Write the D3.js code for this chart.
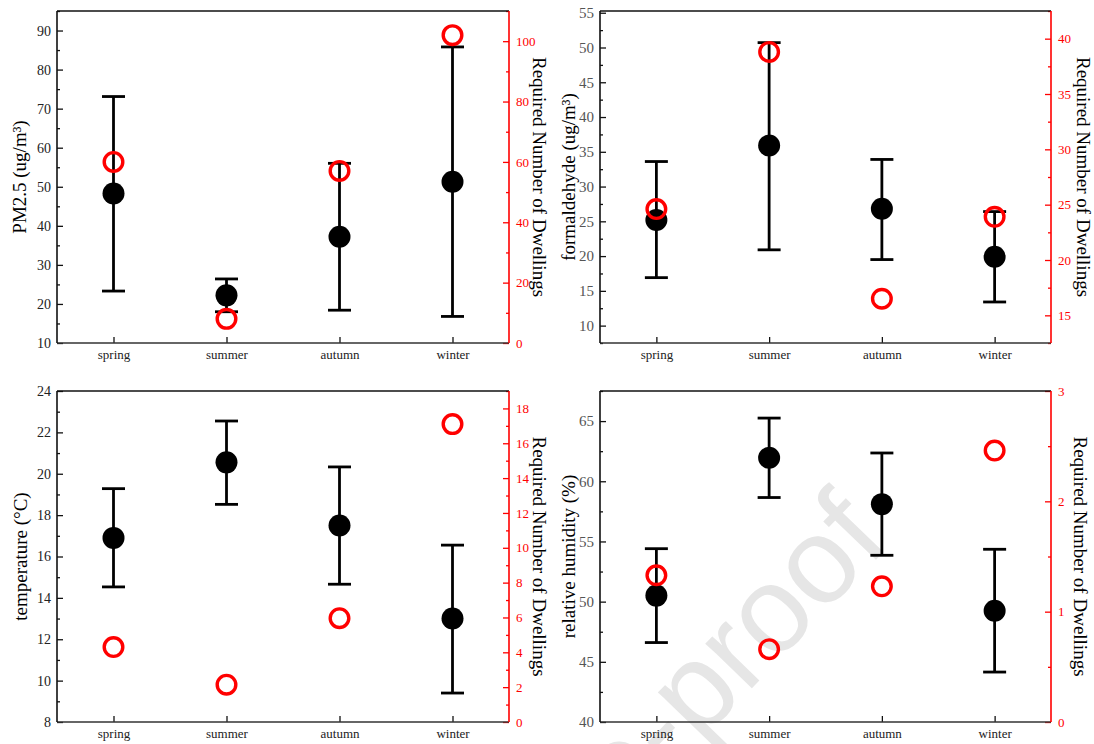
<!DOCTYPE html>
<html>
<head>
<meta charset="utf-8">
<script src="https://cdn.jsdelivr.net/npm/d3@7"></script>
<style>
  html, body { margin: 0; padding: 0; background: #ffffff; }
  svg { display: block; }
  text { font-family: "Liberation Serif", "Times New Roman", serif; }
</style>
</head>
<body>
<svg id="chart" width="1094" height="744"></svg>
<script>
// ---------------- data ----------------
const seasons = ["spring", "summer", "autumn", "winter"];

const pm25Mean  = [48.3, 22.2, 37.2, 51.3];
const pm25Upper = [73.1, 26.4, 56.0, 85.8];
const pm25Lower = [23.3, 18.0, 18.4, 16.8];
const pm25Dwellings = [60, 8, 57, 102];

const hchoMean  = [25.2, 35.9, 26.8, 19.9];
const hchoUpper = [33.6, 50.7, 33.9, 26.4];
const hchoLower = [16.9, 20.9, 19.5, 13.4];
const hchoDwellings = [24.6, 38.8, 16.5, 23.9];

const tempMean  = [16.9, 20.55, 17.5, 13.0];
const tempUpper = [19.28, 22.55, 20.33, 16.55];
const tempLower = [14.53, 18.52, 14.66, 9.40];
const tempDwellings = [4.3, 2.14, 5.96, 17.1];

const rhMean  = [50.5, 61.95, 58.1, 49.25];
const rhUpper = [54.4, 65.25, 62.35, 54.35];
const rhLower = [46.6, 58.65, 53.85, 44.15];
const rhDwellings = [1.33, 0.66, 1.23, 2.46];

const pm25Ticks = [10, 20, 30, 40, 50, 60, 70, 80, 90];
const hchoTicks = [10, 15, 20, 25, 30, 35, 40, 45, 50, 55];
const tempTicks = [8, 10, 12, 14, 16, 18, 20, 22, 24];
const rhTicks   = [40, 45, 50, 55, 60, 65];
const pm25DwTicks = [0, 20, 40, 60, 80, 100];
const hchoDwTicks = [15, 20, 25, 30, 35, 40];
const tempDwTicks = [0, 2, 4, 6, 8, 10, 12, 14, 16, 18];
const rhDwTicks   = [0, 1, 2, 3];

const leftTitles = ["PM2.5 (ug/m\u00B3)", "formaldehyde (ug/m\u00B3)", "temperature (\u00B0C)", "relative humidity (%)"];
const rightTitle = "Required Number of Dwellings";
const watermark = "Journal Pre-proof";

// ---------------- layout ----------------
const panels = [
  { x0: 57,  x1: 509,  y0: 11,  y1: 343, mean: pm25Mean, up: pm25Upper, lo: pm25Lower, dw: pm25Dwellings,
    ld: [10, 95], lt: pm25Ticks, lminor: 5, rd: [0, 110], rt: pm25DwTicks, rminor: 10,
    title: leftTitles[0], tickColor: "#222", tickSize: 14, ltx: 19, rtx: 539, catY: 359 },
  { x0: 600, x1: 1051, y0: 11,  y1: 343, mean: hchoMean, up: hchoUpper, lo: hchoLower, dw: hchoDwellings,
    ld: [7.5, 55.25], lt: hchoTicks, lminor: 2.5, rd: [12.5, 42.5], rt: hchoDwTicks, rminor: 2.5,
    title: leftTitles[1], tickColor: "#555", tickSize: 15, ltx: 568, rtx: 1083, catY: 359 },
  { x0: 57,  x1: 509,  y0: 391, y1: 722, mean: tempMean, up: tempUpper, lo: tempLower, dw: tempDwellings,
    ld: [8, 24], lt: tempTicks, lminor: 1, rd: [0, 19], rt: tempDwTicks, rminor: 1,
    title: leftTitles[2], tickColor: "#222", tickSize: 14, ltx: 20, rtx: 539, catY: 738 },
  { x0: 600, x1: 1051, y0: 391, y1: 722, mean: rhMean, up: rhUpper, lo: rhLower, dw: rhDwellings,
    ld: [40, 67.5], lt: rhTicks, lminor: 2.5, rd: [0, 3], rt: rhDwTicks, rminor: 0.5,
    title: leftTitles[3], tickColor: "#555", tickSize: 15, ltx: 568, rtx: 1080, catY: 738 }
];

const svg = d3.select("#chart");

// watermark (behind the charts)
svg.append("text")
  .attr("transform", "translate(892,543) rotate(-46)")
  .attr("text-anchor", "end")
  .style("font-family", "'Liberation Sans', Arial, sans-serif")
  .style("font-size", "122px")
  .attr("fill", "#e6e6e6")
  .text(watermark);

function minorValues(domain, step) {
  const out = [];
  const start = Math.ceil(domain[0] / step - 1e-9) * step;
  for (let v = start; v <= domain[1] + 1e-9; v += step) out.push(+v.toFixed(6));
  return out;
}

panels.forEach(p => {
  const g = svg.append("g");
  const x = d3.scalePoint().domain(seasons).range([p.x0, p.x1]).padding(0.5);
  const yL = d3.scaleLinear().domain(p.ld).range([p.y1, p.y0]);
  const yR = d3.scaleLinear().domain(p.rd).range([p.y1, p.y0]);
  const serif = "'Liberation Serif', 'Times New Roman', serif";

  // left axis: minor + major ticks (inward)
  const lMinor = minorValues(p.ld, p.lminor).filter(v => !p.lt.includes(v));
  g.append("g").attr("transform", `translate(${p.x0},0)`)
    .call(d3.axisLeft(yL).tickValues(lMinor).tickSizeInner(-3).tickSizeOuter(0).tickFormat(""))
    .call(a => a.select(".domain").remove())
    .call(a => a.selectAll("line").attr("stroke", "#111").attr("stroke-width", 1.3));
  g.append("g").attr("transform", `translate(${p.x0},0)`)
    .call(d3.axisLeft(yL).tickValues(p.lt).tickSizeInner(-6).tickSizeOuter(0).tickPadding(6).tickFormat(d3.format("d")))
    .attr("font-family", serif)
    .call(a => a.select(".domain").remove())
    .call(a => a.selectAll("line").attr("stroke", "#111").attr("stroke-width", 1.3))
    .call(a => a.selectAll("text").attr("fill", p.tickColor)
      .style("font-size", p.tickSize + "px").style("font-family", serif));

  // right axis (red)
  const rMinor = minorValues(p.rd, p.rminor).filter(v => !p.rt.includes(v));
  g.append("g").attr("transform", `translate(${p.x1},0)`)
    .call(d3.axisRight(yR).tickValues(rMinor).tickSizeInner(-3).tickSizeOuter(0).tickFormat(""))
    .call(a => a.select(".domain").remove())
    .call(a => a.selectAll("line").attr("stroke", "#ff0000").attr("stroke-width", 1.3));
  g.append("g").attr("transform", `translate(${p.x1},0)`)
    .call(d3.axisRight(yR).tickValues(p.rt).tickSizeInner(-6).tickSizeOuter(0).tickPadding(7).tickFormat(d3.format("d")))
    .attr("font-family", serif)
    .call(a => a.select(".domain").remove())
    .call(a => a.selectAll("line").attr("stroke", "#ff0000").attr("stroke-width", 1.3))
    .call(a => a.selectAll("text").attr("fill", "#ff0000")
      .style("font-size", "13px").style("font-family", serif));

  // bottom axis with inward ticks
  g.append("g").attr("transform", `translate(0,${p.y1})`)
    .call(d3.axisBottom(x).tickSizeInner(-6).tickSizeOuter(0).tickPadding(0))
    .attr("font-family", serif)
    .call(a => a.select(".domain").remove())
    .call(a => a.selectAll("line").attr("stroke", "#111").attr("stroke-width", 1.3))
    .call(a => a.selectAll("text").attr("fill", "#222").attr("y", p.catY - p.y1).attr("dy", null)
      .style("font-size", "13px").style("font-family", serif));

  // frame lines
  g.append("line").attr("x1", p.x0).attr("x2", p.x1).attr("y1", p.y0).attr("y2", p.y0)
    .attr("stroke", "#111").attr("stroke-width", 1.6);
  g.append("line").attr("x1", p.x0).attr("x2", p.x1).attr("y1", p.y1).attr("y2", p.y1)
    .attr("stroke", "#333").attr("stroke-width", 1.6);
  g.append("line").attr("x1", p.x0).attr("x2", p.x0).attr("y1", p.y0).attr("y2", p.y1)
    .attr("stroke", "#111").attr("stroke-width", 1.6);
  g.append("line").attr("x1", p.x1).attr("x2", p.x1).attr("y1", p.y0).attr("y2", p.y1)
    .attr("stroke", "#ff0000").attr("stroke-width", 1.6);

  // axis titles
  const cy = (p.y0 + p.y1) / 2;
  g.append("text")
    .attr("transform", `translate(${p.ltx},${cy}) rotate(-90)`)
    .attr("text-anchor", "middle").attr("dominant-baseline", "central")
    .style("font-size", "19px").attr("fill", "#000")
    .text(p.title);
  g.append("text")
    .attr("transform", `translate(${p.rtx},${cy}) rotate(90)`)
    .attr("text-anchor", "middle").attr("dominant-baseline", "central")
    .style("font-size", "19px").attr("fill", "#000")
    .text(rightTitle);

  // error bars
  const idx = d3.range(seasons.length);
  const capHalf = 11.5;
  g.selectAll(".eb").data(idx).join("line")
    .attr("x1", i => x(seasons[i])).attr("x2", i => x(seasons[i]))
    .attr("y1", i => yL(p.up[i])).attr("y2", i => yL(p.lo[i]))
    .attr("stroke", "#000").attr("stroke-width", 2.8);
  g.selectAll(".capU").data(idx).join("line")
    .attr("x1", i => x(seasons[i]) - capHalf).attr("x2", i => x(seasons[i]) + capHalf)
    .attr("y1", i => yL(p.up[i])).attr("y2", i => yL(p.up[i]))
    .attr("stroke", "#000").attr("stroke-width", 2.8);
  g.selectAll(".capL").data(idx).join("line")
    .attr("x1", i => x(seasons[i]) - capHalf).attr("x2", i => x(seasons[i]) + capHalf)
    .attr("y1", i => yL(p.lo[i])).attr("y2", i => yL(p.lo[i]))
    .attr("stroke", "#000").attr("stroke-width", 2.8);

  // mean markers
  g.selectAll(".mean").data(idx).join("circle")
    .attr("cx", i => x(seasons[i])).attr("cy", i => yL(p.mean[i]))
    .attr("r", 11).attr("fill", "#000");

  // dwellings markers
  g.selectAll(".dw").data(idx).join("circle")
    .attr("cx", i => x(seasons[i])).attr("cy", i => yR(p.dw[i]))
    .attr("r", 9.3).attr("fill", "none").attr("stroke", "#ff0000").attr("stroke-width", 3.4);
});
</script>
</body>
</html>
